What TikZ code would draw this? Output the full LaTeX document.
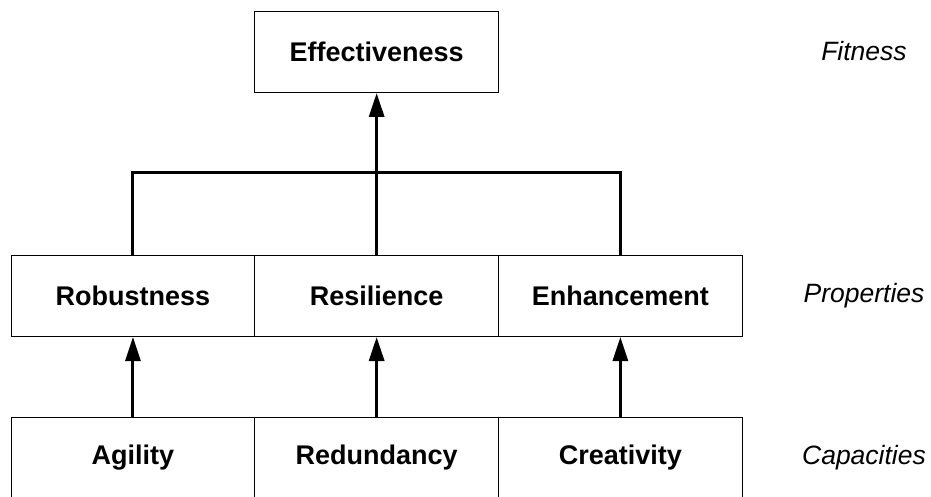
\documentclass[tikz,border=0pt]{standalone}
\usepackage{fontspec}
\setmainfont{Liberation Sans}
\usetikzlibrary{arrows.meta}
\begin{document}
\begin{tikzpicture}[x=1pt,y=-1pt,
  cell/.style={draw=black, line width=1pt, minimum width=243.7pt, minimum height=81pt,
    inner sep=0pt, font=\fontsize{27}{32}\selectfont\bfseries, anchor=north west},
  level/.style={font=\fontsize{26.5}{32}\selectfont\itshape, anchor=center},
  link/.style={line width=3pt},
  up/.style={line width=3pt, -{Triangle[length=24pt,width=15pt]}}]
\useasboundingbox (0,0) rectangle (931,497);
\clip (0,0) rectangle (931,497);
\fill[white] (0,0) rectangle (931,497);

% top level
\node[cell] (eff) at (254.3,11) {Effectiveness};

% middle row
\node[cell] (rob) at (10.6,255) {Robustness};
\node[cell] (res) at (254.3,255) {Resilience};
\node[cell] (enh) at (498,255) {Enhancement};

% bottom row (its lower edge falls at the page border)
\node[cell] (agi) at (10.6,417) {Agility};
\node[cell] (red) at (254.3,417) {Redundancy};
\node[cell] (cre) at (498,417) {Creativity};

% level captions
\node[level] (fit) at (864,51) {Fitness};
\node[level] (pro) at (864,296) {Properties};
\node[level] (cap) at (864,458) {Capacities};

% aggregation into the top box
\coordinate (bar) at (376,173);
\draw[link] (rob.north) |- (bar) -| (enh.north);
\draw[up] (res.north) -- (eff.south);

% capacities feeding properties
\draw[up] (agi.north) -- (rob.south);
\draw[up] (red.north) -- (res.south);
\draw[up] (cre.north) -- (enh.south);
\end{tikzpicture}
\end{document}
